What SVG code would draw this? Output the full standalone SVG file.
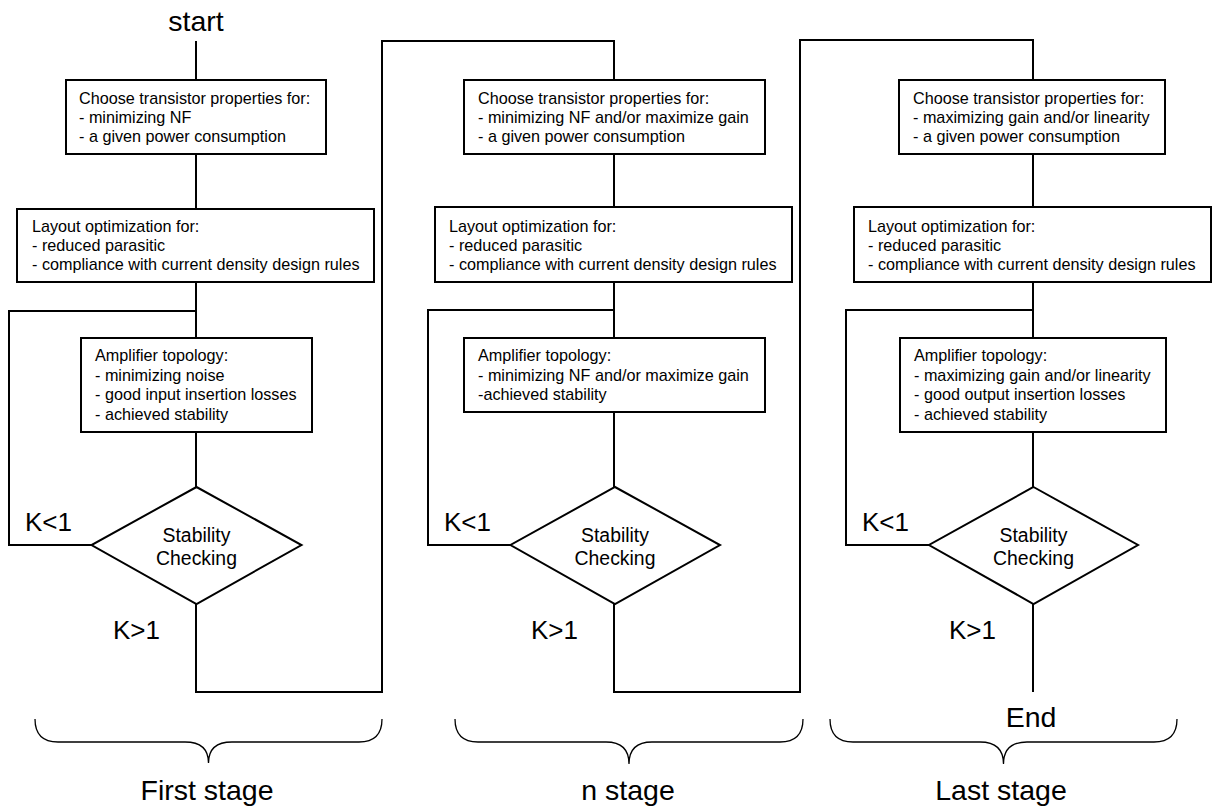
<svg xmlns="http://www.w3.org/2000/svg" width="1217" height="810" viewBox="0 0 1217 810">
  <style>
    .box { fill: #fff; stroke: #000; stroke-width: 2; }
    .dia { fill: #fff; stroke: #000; stroke-width: 2; }
    .wire { fill: none; stroke: #000; stroke-width: 2; stroke-linejoin: miter; }
    .brace { fill: none; stroke: #000; stroke-width: 1.3; }
    text { font-family: "Liberation Sans", Arial, sans-serif; fill: #000; }
    .t { font-size: 16.2px; }
    .big { font-size: 28.5px; text-anchor: middle; }
    .k { font-size: 26px; }
    .chk { font-size: 19.4px; text-anchor: middle; }
  </style>

  <!-- connectors -->
  <g id="connectors" class="wire">
    <!-- first stage -->
    <path d="M196,41 V80"/>
    <path d="M196,154 V209"/>
    <path d="M196,282 V338"/>
    <path d="M196,432 V487"/>
    <path d="M92,545 H9 V311 H196"/>
    <path d="M196,604 V692 H382 V41 H614 V80"/>
    <!-- n stage -->
    <path d="M614,154 V207"/>
    <path d="M614,282 V338"/>
    <path d="M614,412 V487"/>
    <path d="M511,545 H428 V310 H614"/>
    <path d="M614,604 V692 H800 V40 H1033 V80"/>
    <!-- last stage -->
    <path d="M1033,154 V207"/>
    <path d="M1033,282 V338"/>
    <path d="M1033,432 V487"/>
    <path d="M929,545 H846 V310 H1033"/>
    <path d="M1033,604 V692"/>
  </g>

  <!-- first stage -->
  <g id="start">
    <text class="big" x="196" y="31">start</text>
  </g>
  <g id="s1-props">
    <rect class="box" x="66" y="80" width="260" height="74"/>
    <text class="t" x="79" y="104">Choose transistor properties for:</text>
    <text class="t" x="79" y="123">- minimizing NF</text>
    <text class="t" x="79" y="142">- a given power consumption</text>
  </g>
  <g id="s1-layout">
    <rect class="box" x="17" y="209" width="357" height="73"/>
    <text class="t" x="32" y="232">Layout optimization for:</text>
    <text class="t" x="32" y="251">- reduced parasitic</text>
    <text class="t" x="32" y="270">- compliance with current density design rules</text>
  </g>
  <g id="s1-topology">
    <rect class="box" x="81" y="338" width="231" height="94"/>
    <text class="t" x="95" y="361">Amplifier topology:</text>
    <text class="t" x="95" y="380.5">- minimizing noise</text>
    <text class="t" x="95" y="400">- good input insertion losses</text>
    <text class="t" x="95" y="419.5">- achieved stability</text>
  </g>
  <g id="s1-check">
    <polygon class="dia" points="196.5,487 301.5,545 196.5,604 91.5,545"/>
    <text class="chk" x="196.5" y="542">Stability</text>
    <text class="chk" x="196.5" y="565">Checking</text>
    <text class="k" x="25" y="531">K&lt;1</text>
    <text class="k" x="113" y="639">K&gt;1</text>
  </g>
  <g id="s1-label">
    <path class="brace" d="M35,719 Q35,742 58,742 L185,742 Q208.5,742 208.5,763 Q208.5,742 232,742 L359,742 Q382,742 382,719"/>
    <text class="big" x="207" y="800">First stage</text>
  </g>

  <!-- n stage -->
  <g id="s2-props">
    <rect class="box" x="464" y="80" width="301" height="74"/>
    <text class="t" x="478" y="104">Choose transistor properties for:</text>
    <text class="t" x="478" y="123">- minimizing NF and/or maximize gain</text>
    <text class="t" x="478" y="142">- a given power consumption</text>
  </g>
  <g id="s2-layout">
    <rect class="box" x="435" y="207" width="357" height="75"/>
    <text class="t" x="449" y="232">Layout optimization for:</text>
    <text class="t" x="449" y="251">- reduced parasitic</text>
    <text class="t" x="449" y="270">- compliance with current density design rules</text>
  </g>
  <g id="s2-topology">
    <rect class="box" x="464" y="338" width="301" height="74"/>
    <text class="t" x="478" y="361">Amplifier topology:</text>
    <text class="t" x="478" y="380.5">- minimizing NF and/or maximize gain</text>
    <text class="t" x="478" y="400">-achieved stability</text>
  </g>
  <g id="s2-check">
    <polygon class="dia" points="615,487 720,545 615,604 510.5,545"/>
    <text class="chk" x="615" y="542">Stability</text>
    <text class="chk" x="615" y="565">Checking</text>
    <text class="k" x="444" y="531">K&lt;1</text>
    <text class="k" x="531" y="639">K&gt;1</text>
  </g>
  <g id="s2-label">
    <path class="brace" d="M455,719 Q455,742 478,742 L606,742 Q629,742 629,764 Q629,742 652,742 L780,742 Q803,742 803,719"/>
    <text class="big" x="628" y="800">n stage</text>
  </g>

  <!-- last stage -->
  <g id="s3-props">
    <rect class="box" x="899" y="80" width="266" height="74"/>
    <text class="t" x="913" y="104">Choose transistor properties for:</text>
    <text class="t" x="913" y="123">- maximizing gain and/or linearity</text>
    <text class="t" x="913" y="142">- a given power consumption</text>
  </g>
  <g id="s3-layout">
    <rect class="box" x="854" y="207" width="357" height="75"/>
    <text class="t" x="868" y="232">Layout optimization for:</text>
    <text class="t" x="868" y="251">- reduced parasitic</text>
    <text class="t" x="868" y="270">- compliance with current density design rules</text>
  </g>
  <g id="s3-topology">
    <rect class="box" x="900" y="338" width="266" height="94"/>
    <text class="t" x="914" y="361">Amplifier topology:</text>
    <text class="t" x="914" y="380.5">- maximizing gain and/or linearity</text>
    <text class="t" x="914" y="400">- good output insertion losses</text>
    <text class="t" x="914" y="419.5">- achieved stability</text>
  </g>
  <g id="s3-check">
    <polygon class="dia" points="1033.5,487 1138,545 1033.5,604 929,545"/>
    <text class="chk" x="1033.5" y="542">Stability</text>
    <text class="chk" x="1033.5" y="565">Checking</text>
    <text class="k" x="862" y="531">K&lt;1</text>
    <text class="k" x="949" y="639">K&gt;1</text>
  </g>
  <g id="end">
    <text class="big" x="1031" y="727">End</text>
  </g>
  <g id="s3-label">
    <path class="brace" d="M830,719 Q830,742 853,742 L980,742 Q1003.5,742 1003.5,764 Q1003.5,742 1027,742 L1154,742 Q1177,742 1177,719"/>
    <text class="big" x="1001" y="800">Last stage</text>
  </g>
</svg>
